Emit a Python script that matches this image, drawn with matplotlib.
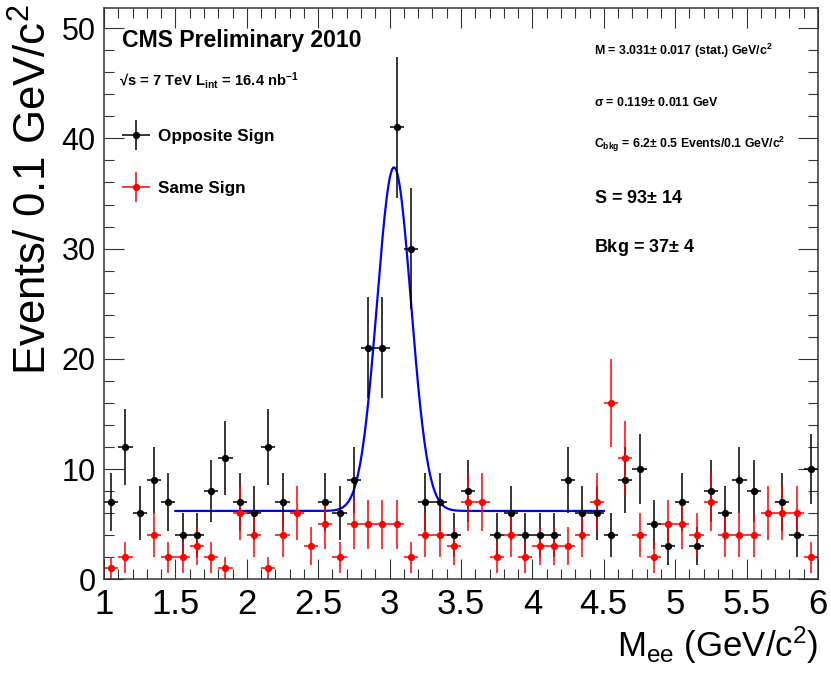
import numpy as np
import matplotlib
matplotlib.use("Agg")
from matplotlib import pyplot as plt
from matplotlib.ticker import MultipleLocator, FuncFormatter
from matplotlib.container import ErrorbarContainer
from matplotlib.legend_handler import HandlerErrorbar

plt.rcParams['font.family'] = ['Liberation Sans', 'DejaVu Sans']
plt.rcParams['mathtext.default'] = 'regular'

# 0.1 GeV bins from 1 to 6 GeV
bin_lo = 1.0
bin_w = 0.1
n_bins = 50

# opposite sign e+e- pairs, counts per bin
opp_sign = [7, 12, 6, 9, 7, 4, 4, 8, 11, 7,
            6, 12, 7, 0, 0, 7, 6, 9, 21, 21,
            41, 30, 7, 7, 4, 8, 0, 4, 6, 4,
            4, 4, 9, 6, 6, 4, 9, 10, 5, 3,
            7, 3, 8, 6, 9, 8, 0, 7, 4, 10]
# same sign pairs
same_sign = [1, 2, 0, 4, 2, 2, 3, 2, 1, 6,
             4, 1, 4, 6, 3, 5, 2, 5, 5, 5,
             5, 2, 4, 4, 3, 7, 7, 2, 4, 2,
             3, 3, 3, 4, 7, 16, 11, 4, 2, 5,
             5, 4, 7, 4, 4, 4, 6, 6, 6, 2]

# gaussian + flat background fit results
fit_mass = 3.031
fit_sigma = 0.119
fit_bkg = 6.2
fit_signal = 93
fit_range = (1.5, 4.5)

centers = bin_lo + bin_w * (np.arange(n_bins) + 0.5)

W, H = 831, 675
fig = plt.figure(figsize=(W / 100, H / 100), dpi=100)
ax = fig.add_axes([104 / W, 1 - 579.3 / H, 714 / W, 571 / H])


def draw_hist(counts, color, label):
    counts = np.asarray(counts, dtype=float)
    ok = counts > 0  # empty bins are not drawn
    return ax.errorbar(centers[ok], counts[ok], yerr=np.sqrt(counts[ok]),
                       xerr=bin_w / 2, fmt='o', color=color, ms=4.2,
                       elinewidth=1.1, capsize=0, label=label)


h_opp = draw_hist(opp_sign, 'black', 'Opposite Sign')
h_same = draw_hist(same_sign, 'red', 'Same Sign')

xf = np.linspace(fit_range[0], fit_range[1], 400)
peak = fit_signal * bin_w / (fit_sigma * np.sqrt(2 * np.pi))
yf = fit_bkg + peak * np.exp(-0.5 * ((xf - fit_mass) / fit_sigma) ** 2)
ax.plot(xf, yf, color='blue', lw=1.6, zorder=1)

ax.set_xlim(1, 6)
ax.set_ylim(0, 51.8)
ax.xaxis.set_major_locator(MultipleLocator(0.5))
ax.xaxis.set_minor_locator(MultipleLocator(0.1))
ax.yaxis.set_major_locator(MultipleLocator(10))
ax.yaxis.set_minor_locator(MultipleLocator(2))
ax.xaxis.set_major_formatter(FuncFormatter(lambda v, p: '%g' % v))
ax.tick_params(which='both', direction='in', top=True, right=True,
               width=0.8, color='0.2')
ax.tick_params(which='major', length=14.4)
ax.tick_params(which='minor', length=7.2)
ax.tick_params(axis='x', labelsize=25, pad=6)
ax.tick_params(axis='y', labelsize=22, pad=6)
for s in ax.spines.values():
    s.set_linewidth(1.1)
    s.set_color('0.2')

ax.set_xlabel(r'M$_{ee}$ (GeV/c$^{2}$)', fontsize=25, loc='right')
ax.xaxis.set_label_coords(1.0, -0.08)
ax.set_ylabel(r'Events/ 0.1 GeV/c$^{2}$', fontsize=31.5, loc='top')
ax.yaxis.set_label_coords(-0.068, 1.006)

ax.legend(handles=[h_opp, h_same], loc='upper left',
          bbox_to_anchor=(0.025, 0.788), frameon=False,
          prop={'size': 12.3, 'weight': 'bold'},
          handlelength=1.65, handletextpad=0.47, labelspacing=2.13,
          borderpad=0, borderaxespad=0,
          handler_map={ErrorbarContainer: HandlerErrorbar(xerr_size=0.82, yerr_size=0.88)})


def label(px, py, text, size):
    fig.text(px / W, 1 - py / H, text, fontsize=size, fontweight='bold',
             va='baseline', ha='left')


label(122, 47.3, 'CMS Preliminary 2010', 16.6)
label(119, 86, r'√s = 7 TeV L$_{int}$ = 16.4 nb$^{-1}$', 10.6)

label(594, 55, r'M = 3.031$\pm$ 0.017 (stat.) GeV/c$^{2}$', 8.9)
label(594, 106, r'σ = 0.119$\pm$ 0.011 GeV', 8.9)
label(594, 148.3, r'C$_{bkg}$ = 6.2$\pm$ 0.5 Events/0.1 GeV/c$^{2}$', 8.8)
label(594, 203.3, r'S = 93$\pm$ 14', 13)
label(594, 251.7, r'Bkg = 37$\pm$ 4', 13)

fig.savefig('out.png', dpi=100)
